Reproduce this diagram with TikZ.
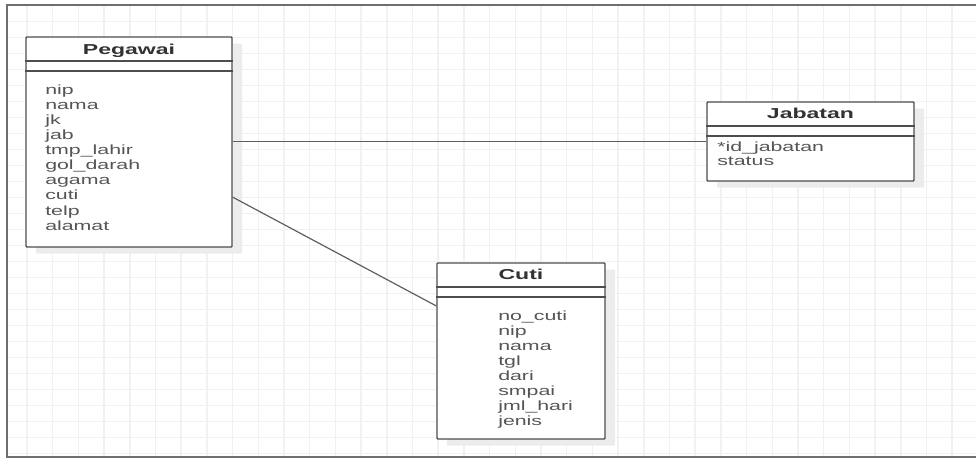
\documentclass[tikz,border=0pt]{standalone}
\usepackage{fontspec}
\setmainfont{Liberation Sans}[FakeStretch=1.6]
\usetikzlibrary{shadows}

\definecolor{gridgray}{RGB}{241,241,241}
\definecolor{framegray}{RGB}{110,110,110}
\definecolor{boxline}{RGB}{77,77,77}
\definecolor{relline}{RGB}{95,95,95}
\definecolor{shadowgray}{RGB}{236,236,236}
\definecolor{titletext}{RGB}{50,50,50}
\definecolor{attrtext}{RGB}{85,85,85}

\tikzset{
  gridline/.style={draw=gridgray, line width=1.1pt},
  frameline/.style={draw=framegray, line width=1.5pt},
  classbox/.style={draw=boxline, line width=1.1pt, fill=white, inner sep=0pt, rounded corners=0.6pt,
    drop shadow={shadow xshift=7.5pt, shadow yshift=-5pt, fill=shadowgray, opacity=1}},
  sepline/.style={draw=boxline, line width=1.1pt},
  classtitle/.style={font=\fontsize{10.8}{13}\selectfont\bfseries, text=titletext, inner sep=0pt, anchor=base},
  attrtext/.style={font=\fontsize{10}{11.3}\selectfont, text=attrtext, inner sep=0pt, anchor=base west},
  relation/.style={draw=relline, line width=0.9pt},
}

\begin{document}
\begin{tikzpicture}[x=0.75pt,y=0.75pt,yscale=-1,xscale=1]
\useasboundingbox (0,0) rectangle (976,459);
\clip (0,0) rectangle (976,459);

%Grid
\foreach \gx in {1,...,37}
  \draw[gridline] (1.3+25.7*\gx,5.5) -- (1.3+25.7*\gx,456.7);
\foreach \gy in {1,...,28}
  \draw[gridline] (7.3,5.7+16*\gy) -- (976,5.7+16*\gy);

%Frame
\draw[frameline] (980,5.5) -- (7.3,5.5) -- (7.3,456.7) -- (980,456.7);

%Class boxes
\node[classbox, minimum width=154.5pt, minimum height=157.5pt] (pegawai) at (129,142) {};
\node[classbox, minimum width=155.25pt, minimum height=59.25pt] (jabatan) at (810.5,141.5) {};
\node[classbox, minimum width=126pt, minimum height=132pt] (cuti) at (521,351) {};

%Compartment lines (yscale=-1 flips yshift)
\foreach \b in {pegawai,jabatan,cuti} {
  \draw[sepline] ([yshift=18.4pt]\b.north west) -- ([yshift=18.4pt]\b.north east);
  \draw[sepline] ([yshift=25.9pt]\b.north west) -- ([yshift=25.9pt]\b.north east);
}

% Text Node
\node[classtitle] (pegawaiTitle) at (129,55) {Pegawai};
\node[classtitle] (jabatanTitle) at (810.5,118.3) {Jabatan};
\node[classtitle] (cutiTitle) at (521,279.3) {Cuti};

% Text Node
\foreach \a [count=\i from 0] in {nip,nama,jk,jab,tmp\_lahir,gol\_darah,agama,cuti,telp,alamat}
  \node[attrtext] (pegawaiAttr\i) at (45,94.3+15.1*\i) {\a};
\foreach \a [count=\i from 0] in {*id\_jabatan,status}
  \node[attrtext] (jabatanAttr\i) at (717,151.5+14.5*\i) {\a};
\foreach \a [count=\i from 0] in {no\_cuti,nip,nama,tgl,dari,smpai,jml\_hari,jenis}
  \node[attrtext] (cutiAttr\i) at (498,320.7+15*\i) {\a};

%Relations
\draw[relation] (pegawai.east |- jabatan.west) -- (jabatan.west);
\draw[relation] (pegawai.-28) -- (cuti.152);

\end{tikzpicture}
\end{document}
